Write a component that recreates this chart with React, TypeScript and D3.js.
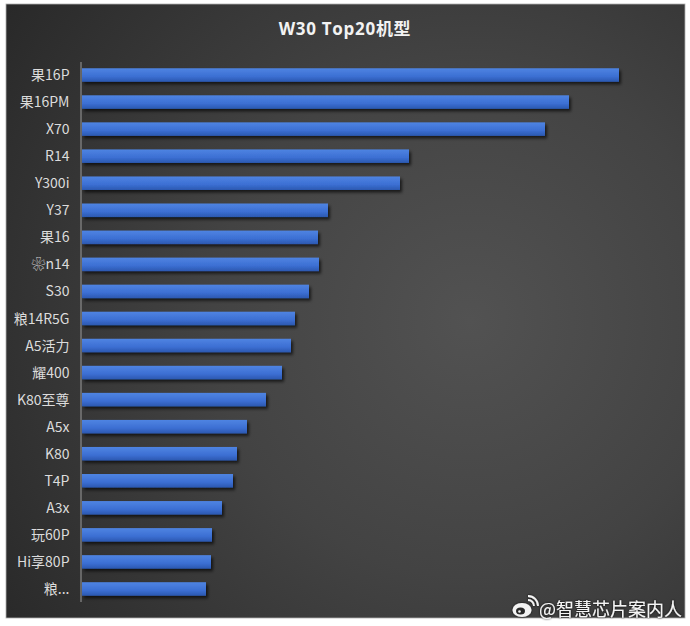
import React from "react";
import * as d3 from "d3";

const categories = [
  "果16P", "果16PM", "X70", "R14", "Y300i", "Y37", "果16", "❀n14", "S30", "粮14R5G",
  "A5活力", "耀400", "K80至尊", "A5x", "K80", "T4P", "A3x", "玩60P", "Hi享80P", "粮...",
];
const values = [
  537, 487, 463, 327, 318, 246, 236, 237, 227, 213,
  209, 200, 184, 165, 155, 151, 140, 130, 129, 124,
];
const title = "W30 Top20机型";
const watermark = "@智慧芯片案内人";

const W = 690;
const H = 626;
const FONT = "'Open Sans','Noto Sans CJK SC',sans-serif";
const LABEL_FONT = "'Noto Sans CJK SC',sans-serif";

export default function App() {
  const x = d3.scaleLinear().domain([0, d3.max(values) as number]).range([82, 619]);
  const y = d3
    .scaleBand<string>()
    .domain(categories)
    .range([61.5, 602.5])
    .paddingInner(0.5)
    .paddingOuter(0.25);

  return (
    <svg
      width={W}
      height={H}
      style={{ position: "absolute", left: 0, top: 0, background: "#fff" }}
    >
      <defs>
        <radialGradient id="bg" gradientUnits="userSpaceOnUse" cx={470} cy={320} r={570}>
          <stop offset="0" stopColor="#525252" />
          <stop offset="0.45" stopColor="#434343" />
          <stop offset="1" stopColor="#282828" />
        </radialGradient>
        <linearGradient id="bar" x1="0" y1="0" x2="0" y2="1">
          <stop offset="0" stopColor="#4f84e2" />
          <stop offset="0.6" stopColor="#3c6fd3" />
          <stop offset="1" stopColor="#2b58b0" />
        </linearGradient>
        <filter id="sh" x="-5%" y="-50%" width="115%" height="220%">
          <feDropShadow dx="2" dy="2.5" stdDeviation="1.5" floodColor="#000" floodOpacity="0.65" />
        </filter>
        <filter id="tsh" x="-10%" y="-30%" width="120%" height="160%">
          <feDropShadow dx="0" dy="0" stdDeviation="1" floodColor="#000" floodOpacity="0.9" />
        </filter>
      </defs>
      <rect x={6} y={4} width={679} height={614} fill="url(#bg)" stroke="#b0b0b0" strokeWidth={0.8} />
      <text
        x={345}
        y={35}
        textAnchor="middle"
        fill="#f2f2f2"
        fontFamily={FONT}
        fontWeight={700}
        fontSize={17}
        letterSpacing={0.7}
      >
        {title}
      </text>
      <line x1={81} x2={81} y1={62} y2={602} stroke="#9c9c9c" strokeWidth={1} />
      {categories.map((c, i) => (
        <g key={c}>
          <rect
            x={x(0)}
            y={y(c) as number}
            width={x(values[i]) - x(0)}
            height={y.bandwidth()}
            fill="url(#bar)"
            filter="url(#sh)"
          />
          <text
            x={69.5}
            y={(y(c) as number) + y.bandwidth() / 2}
            dy="0.36em"
            textAnchor="end"
            fill="#dcdcdc"
            fontFamily={LABEL_FONT}
            fontSize={14}
          >
            {c}
          </text>
        </g>
      ))}
      <g filter="url(#tsh)">
        <ellipse cx={522} cy={610} rx={9.5} ry={7} fill="#f4f4f4" />
        <ellipse cx={520.5} cy={611} rx={4.5} ry={3.5} fill="#2a2a2a" />
        <circle cx={519.5} cy={611.5} r={1.3} fill="#f4f4f4" />
        <path d="M528 600 A6 6 0 0 1 534 606" fill="none" stroke="#f4f4f4" strokeWidth={1.8} />
        <path d="M528 596 A10 10 0 0 1 538 606" fill="none" stroke="#f4f4f4" strokeWidth={1.8} />
        <text
          x={539}
          y={616}
          fill="#f4f4f4"
          fontFamily="'Noto Sans CJK SC',sans-serif"
          fontSize={18}
        >
          {watermark}
        </text>
      </g>
    </svg>
  );
}
